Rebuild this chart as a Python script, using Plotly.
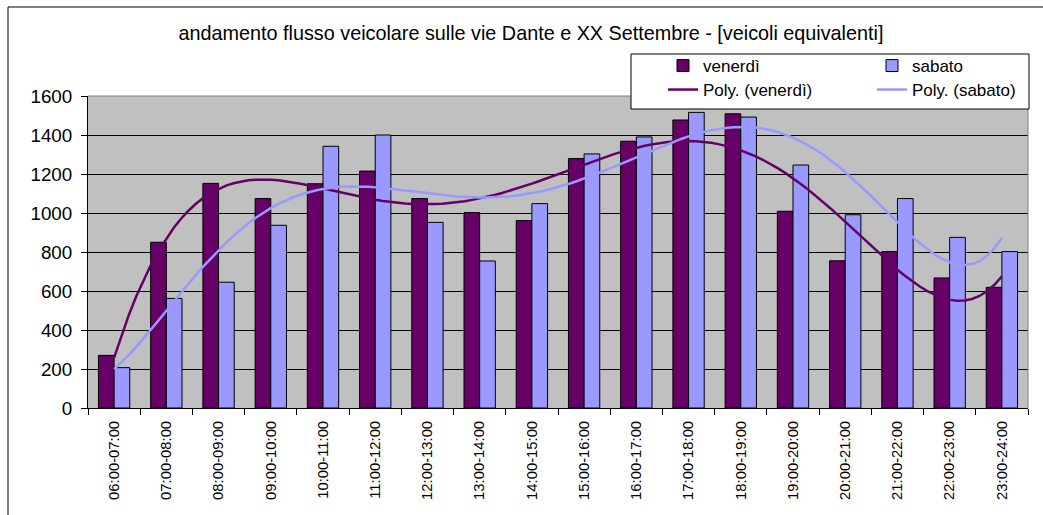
import numpy as np
import plotly.graph_objects as go

# Hourly traffic counts (equivalent vehicles)
fasce = ["06:00-07:00", "07:00-08:00", "08:00-09:00", "09:00-10:00", "10:00-11:00",
         "11:00-12:00", "12:00-13:00", "13:00-14:00", "14:00-15:00", "15:00-16:00",
         "16:00-17:00", "17:00-18:00", "18:00-19:00", "19:00-20:00", "20:00-21:00",
         "21:00-22:00", "22:00-23:00", "23:00-24:00"]
venerdi = [270, 850, 1152, 1074, 1150, 1215, 1074, 1002, 961, 1279,
           1368, 1477, 1509, 1009, 755, 802, 667, 619]
sabato = [207, 562, 645, 937, 1342, 1400, 952, 754, 1048, 1303,
          1390, 1516, 1492, 1246, 991, 1074, 875, 802]
y_ticks = [0, 200, 400, 600, 800, 1000, 1200, 1400, 1600]

COL_VEN = "#660066"
COL_SAB = "#9999FF"
FONT = "Liberation Sans, Arial, sans-serif"

# order-6 polynomial trendlines fitted on the category index 1..n
idx = np.arange(1, len(fasce) + 1)
xs = np.linspace(1, len(fasce), 120)
trend_ven = np.polyval(np.polyfit(idx, venerdi, 6), xs)
trend_sab = np.polyval(np.polyfit(idx, sabato, 6), xs)

fig = go.Figure()
fig.add_trace(go.Bar(x=fasce, y=venerdi, name="venerdì",
                     marker=dict(color=COL_VEN, line=dict(color="black", width=1)),
                     legend="legend"))
fig.add_trace(go.Bar(x=fasce, y=sabato, name="sabato",
                     marker=dict(color=COL_SAB, line=dict(color="black", width=1)),
                     legend="legend"))
fig.add_trace(go.Scatter(x=xs, y=trend_ven, mode="lines", name="Poly. (venerdì)",
                         line=dict(color=COL_VEN, width=2.5), xaxis="x2",
                         legend="legend2"))
fig.add_trace(go.Scatter(x=xs, y=trend_sab, mode="lines", name="Poly. (sabato)",
                         line=dict(color=COL_SAB, width=2.5), xaxis="x2",
                         legend="legend2"))

L, R, T, B = 88, 15, 96, 107
W, H = 1043, 515
pw, ph = W - L - R, H - T - B


def px_x(px):
    return (px - L) / pw


def px_y(py):
    return (H - B - py) / ph


legend_common = dict(orientation="h", xanchor="left", yanchor="middle",
                     bgcolor="rgba(0,0,0,0)", borderwidth=0,
                     entrywidth=164, entrywidthmode="pixels",
                     font=dict(family=FONT, size=17, color="black"),
                     traceorder="normal")

fig.update_layout(
    width=W, height=H,
    margin=dict(l=L, r=R, t=T, b=B, autoexpand=False),
    paper_bgcolor="white",
    plot_bgcolor="#C0C0C0",
    barmode="group",
    bargap=0.4,
    bargroupgap=0,
    font=dict(family=FONT, color="black"),
    title=dict(text="andamento flusso veicolare sulle vie Dante e XX Settembre - [veicoli equivalenti]",
               x=531 / W, xanchor="center", y=1 - 33 / H, yanchor="middle",
               font=dict(family=FONT, size=19.8, color="black")),
    legend=dict(x=px_x(663), y=px_y(66), **legend_common),
    legend2=dict(x=px_x(663), y=px_y(90), **legend_common),
    xaxis=dict(type="category", tickson="boundaries", ticks="outside", ticklen=6,
               tickcolor="black", tickangle=-90, showline=True, linecolor="black",
               linewidth=1, showgrid=False, ticklabelstandoff=6,
               tickfont=dict(family=FONT, size=14.8, color="black")),
    xaxis2=dict(overlaying="x", range=[0.5, len(fasce) + 0.5], visible=False),
    yaxis=dict(range=[0, 1600], tickvals=y_ticks, ticks="outside", ticklen=6,
               tickcolor="black", showline=True, linecolor="black", linewidth=1,
               showgrid=True, gridcolor="black", gridwidth=1,
               zeroline=True, zerolinecolor="black", zerolinewidth=1,
               ticklabelstandoff=5,
               tickfont=dict(family=FONT, size=18.8, color="black")),
    shapes=[
        # grey plot-area border (top and right)
        dict(type="line", xref="paper", yref="paper", x0=0, x1=1, y0=1, y1=1,
             line=dict(color="#808080", width=1), layer="above"),
        dict(type="line", xref="paper", yref="paper", x0=1, x1=1, y0=0, y1=1,
             line=dict(color="#808080", width=1), layer="above"),
        # chart-area frame
        dict(type="line", xref="paper", yref="paper", x0=px_x(8), x1=px_x(8),
             y0=px_y(520), y1=px_y(7), line=dict(color="black", width=1)),
        dict(type="line", xref="paper", yref="paper", x0=px_x(8), x1=px_x(1050),
             y0=px_y(7), y1=px_y(7), line=dict(color="black", width=1)),
        # legend box
        dict(type="rect", xref="paper", yref="paper", x0=px_x(631), x1=px_x(1029),
             y0=px_y(109), y1=px_y(54), fillcolor="white",
             line=dict(color="black", width=1), layer="above"),
    ],
)

fig.write_html("out.html")
